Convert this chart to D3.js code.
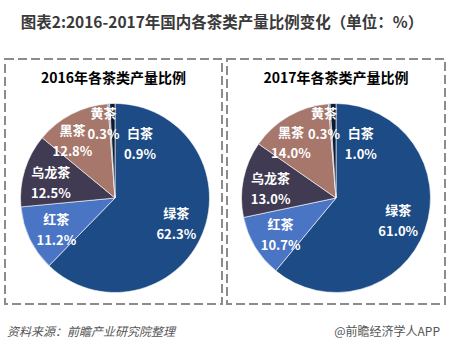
<!DOCTYPE html>
<html>
<head>
<meta charset="utf-8">
<script src="https://cdn.jsdelivr.net/npm/d3@7"></script>
<style>
  body { margin: 0; background: #fff; }
  svg { display: block; font-family: "Noto Sans CJK SC", "Microsoft YaHei", sans-serif; }
</style>
</head>
<body>
<div id="chart"></div>
<script>
var categories = ["绿茶", "红茶", "乌龙茶", "黑茶", "黄茶", "白茶"];
var years = ["2016", "2017"];
var values2016 = [62.3, 11.2, 12.5, 12.8, 0.3, 0.9];
var values2017 = [61.0, 10.7, 13.0, 14.0, 0.3, 1.0];
var seriesValues = [values2016, values2017];

var colors = ["#1d4b85", "#4a75c4", "#403a53", "#a6776a", "#7d8496", "#0c1b33"];
// label placement tweaks (degrees offset from slice middle, radius fraction)
var labelAdjust = [[0, 0.70], [-2, 0.70], [-3, 0.70], [-9, 0.76], [-5, 0.80], [26, 0.64]];

var width = 449, height = 349;
var svg = d3.select("#chart").append("svg")
  .attr("width", width)
  .attr("height", height);

svg.append("text")
  .attr("x", 222)
  .attr("y", 28)
  .attr("text-anchor", "middle")
  .style("font-size", "15.5px")
  .style("font-weight", "bold")
  .style("fill", "#3a3a3a")
  .text("图表2:2016-2017年国内各茶类产量比例变化（单位：%）");

var panels = [
  {x: 5, w: 217, cx: 115},
  {x: 227, w: 218, cx: 336}
];
var radius = 94.5,
  cy = 198;

var pie = d3.pie().sort(null).value(function(d) { return d; });
var arc = d3.arc().innerRadius(0).outerRadius(radius);

panels.forEach(function(p, i) {
  svg.append("rect")
    .attr("x", p.x)
    .attr("y", 59)
    .attr("width", p.w)
    .attr("height", 245)
    .attr("fill", "none")
    .attr("stroke", "#8c8c8c")
    .attr("stroke-width", 2)
    .attr("stroke-dasharray", "9,4");

  svg.append("text")
    .attr("x", p.x + p.w / 2)
    .attr("y", 83)
    .attr("text-anchor", "middle")
    .style("font-size", "14px")
    .style("font-weight", "bold")
    .style("fill", "#000")
    .text(years[i] + "年各茶类产量比例");

  var g = svg.append("g")
    .attr("transform", "translate(" + p.cx + "," + cy + ")");

  var arcs = pie(seriesValues[i]);

  g.selectAll("path")
    .data(arcs)
    .enter().append("path")
    .attr("d", arc)
    .attr("fill", function(d, j) { return colors[j]; })
    .attr("stroke", "#fff")
    .attr("stroke-width", 0.6);

  var labels = g.selectAll(".lbl")
    .data(arcs)
    .enter().append("text")
    .attr("class", "lbl")
    .attr("text-anchor", "middle")
    .style("font-size", "13px")
    .style("font-weight", "bold")
    .style("fill", "#fff")
    .attr("transform", function(d, j) {
      var a = (d.startAngle + d.endAngle) / 2 + labelAdjust[j][0] * Math.PI / 180;
      var r = radius * labelAdjust[j][1];
      return "translate(" + (r * Math.sin(a)) + "," + (-r * Math.cos(a)) + ")";
    });

  labels.append("tspan")
    .attr("x", 0)
    .attr("y", -5)
    .text(function(d, j) { return categories[j]; });
  labels.append("tspan")
    .attr("x", 0)
    .attr("y", 16)
    .text(function(d) { return d.value.toFixed(1) + "%"; });
});

svg.append("text")
  .attr("x", 7)
  .attr("y", 336)
  .style("font-size", "12px")
  .style("font-style", "italic")
  .style("fill", "#555")
  .text("资料来源：前瞻产业研究院整理");

svg.append("text")
  .attr("x", 440)
  .attr("y", 336)
  .attr("text-anchor", "end")
  .style("font-size", "12px")
  .style("fill", "#555")
  .text("@前瞻经济学人APP");
</script>
</body>
</html>
